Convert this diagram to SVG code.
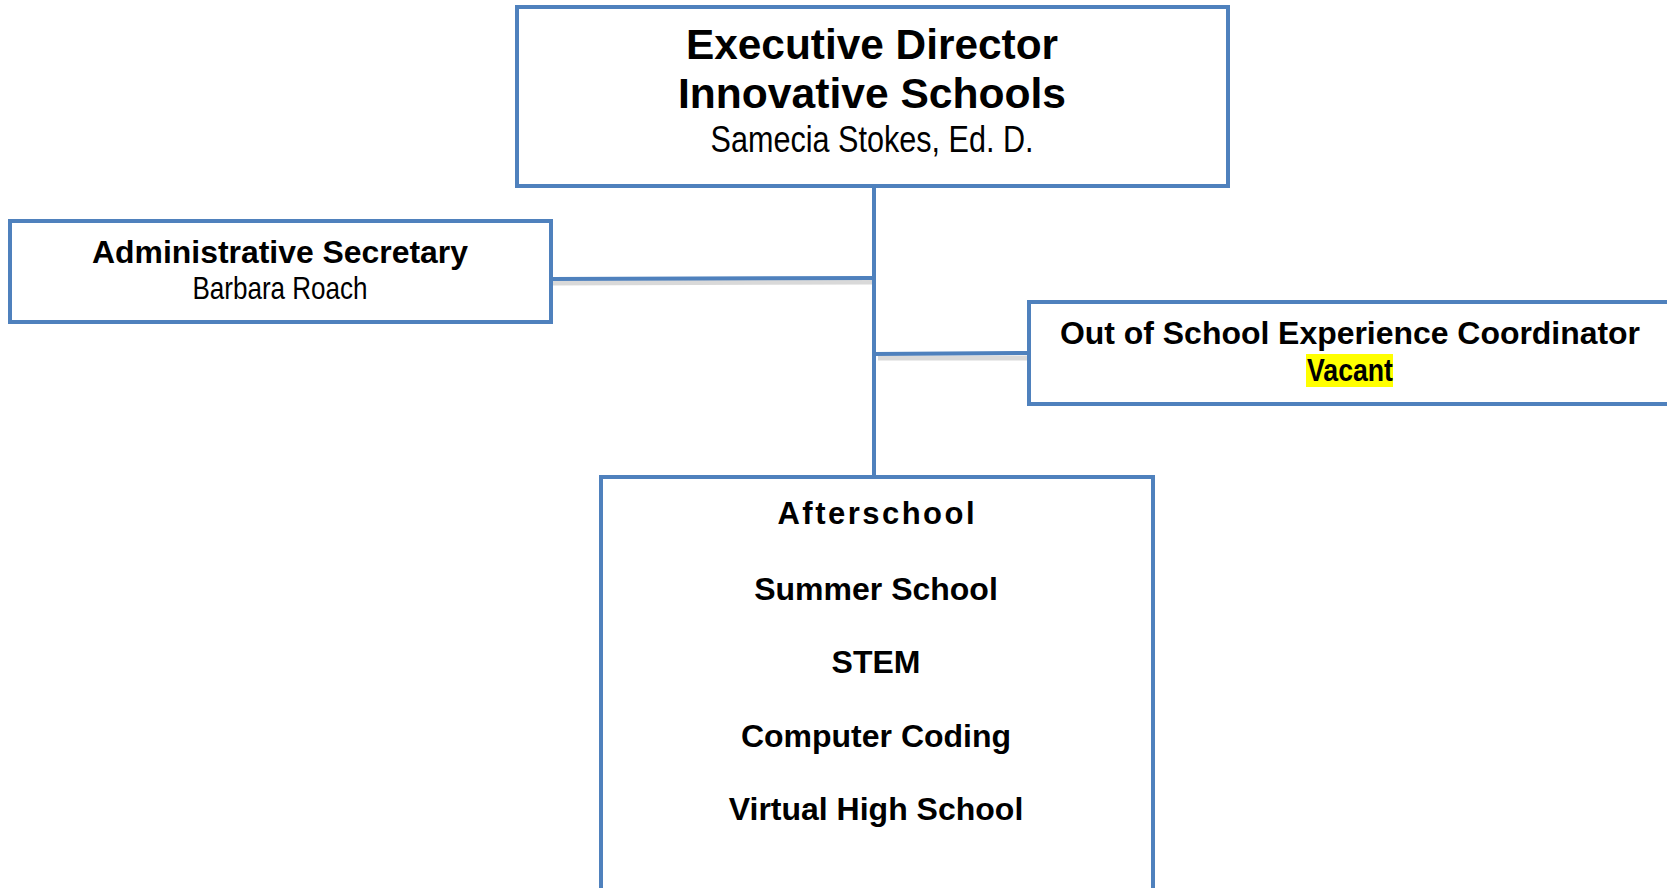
<svg xmlns="http://www.w3.org/2000/svg" width="1667" height="888" viewBox="0 0 1667 888">
<style>
.box{fill:#fff;stroke:#4F81BD;stroke-width:4}
.conn{stroke:#4F81BD;stroke-width:4;fill:none}
.shadow{stroke:#d9d9d9;stroke-width:5;fill:none}
.t{font-family:"Liberation Sans",Arial,sans-serif;fill:#000;text-anchor:middle}
.b{font-weight:bold}
</style>
<rect width="1667" height="888" fill="#fff"/>
<g id="connectors">
<line class="shadow" x1="553" y1="283" x2="872" y2="282"/>
<line class="shadow" x1="878" y1="358" x2="1027" y2="358"/>
<line class="conn" x1="874" y1="186" x2="874" y2="476"/>
<line class="conn" x1="551" y1="279" x2="874" y2="278"/>
<line class="conn" x1="874" y1="354" x2="1029" y2="353"/>
</g>
<g id="executive-director">
<rect class="box" x="517" y="7" width="711" height="179"/>
<text class="t b" x="872" y="59" font-size="43" textLength="372" lengthAdjust="spacingAndGlyphs">Executive Director</text>
<text class="t b" x="872" y="108" font-size="43" textLength="388" lengthAdjust="spacingAndGlyphs">Innovative Schools</text>
<text class="t" x="872" y="152" font-size="37" textLength="323" lengthAdjust="spacingAndGlyphs">Samecia Stokes, Ed. D.</text>
</g>
<g id="administrative-secretary">
<rect class="box" x="10" y="221" width="541" height="101"/>
<text class="t b" x="280" y="263" font-size="32" textLength="376" lengthAdjust="spacingAndGlyphs">Administrative Secretary</text>
<text class="t" x="280" y="299" font-size="32" textLength="175" lengthAdjust="spacingAndGlyphs">Barbara Roach</text>
</g>
<g id="out-of-school-coordinator">
<rect class="box" x="1029" y="302" width="660" height="102"/>
<text class="t b" x="1350" y="344" font-size="32" textLength="580" lengthAdjust="spacingAndGlyphs">Out of School Experience Coordinator</text>
<rect x="1306" y="354" width="87" height="33" fill="#ffff00"/>
<text class="t b" x="1350" y="381" font-size="32" textLength="86" lengthAdjust="spacingAndGlyphs">Vacant</text>
</g>
<g id="programs">
<rect class="box" x="601" y="477" width="552" height="430"/>
<text class="t b" x="876" y="524" font-size="31" textLength="197" lengthAdjust="spacing">Afterschool</text>
<text class="t b" x="876" y="600" font-size="32">Summer School</text>
<text class="t b" x="876" y="673" font-size="32">STEM</text>
<text class="t b" x="876" y="747" font-size="32">Computer Coding</text>
<text class="t b" x="876" y="820" font-size="32">Virtual High School</text>
</g>
</svg>
